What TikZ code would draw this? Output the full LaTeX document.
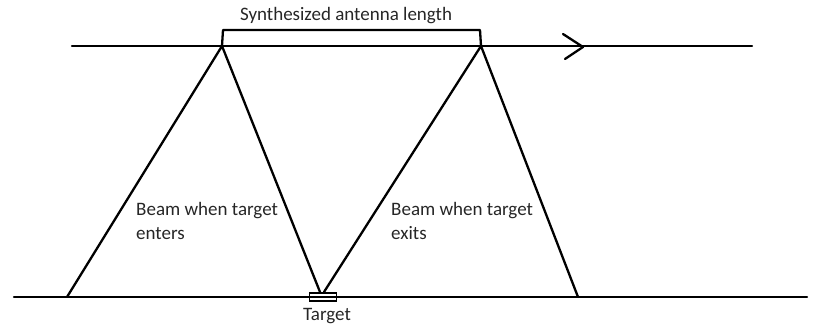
\documentclass[tikz,border=0pt]{standalone}
\usepackage{fontspec}
\setmainfont{Carlito}
\begin{document}
\begin{tikzpicture}[x=1pt,y=-1pt,
  ln/.style={line width=2.3pt, line cap=round, line join=round},
  lbl/.style={font=\fontsize{19}{24}\selectfont, text=black!85, inner sep=0pt},
  multi/.style={lbl, align=left, anchor=north west}]
\useasboundingbox (0,0) rectangle (818,329);
% flight track
\coordinate (tl) at (72,46);
\coordinate (tr) at (752,46);
\draw[ln] (tl) -- (tr);
% chevron arrow
\coordinate (aup) at (563,34);
\coordinate (atip) at (583,47);
\coordinate (alo) at (565,59);
\draw[ln] (aup) -- (atip) -- (alo);
% ground
\coordinate (gl) at (14,297);
\coordinate (gr) at (807,297);
\draw[ln] (gl) -- (gr);
% apexes
\coordinate (a1) at (222,46);
\coordinate (a2) at (481,46);
% bracket
\coordinate (b1) at (223,30);
\coordinate (b2) at (480,30);
\draw[ln] (a1) -- (b1) -- (b2) -- (a2);
\node[lbl] (syn) at (346,16) {Synthesized antenna length};
% target
\node[draw, line width=1.8pt, minimum width=27pt, minimum height=8pt, inner sep=0pt] (tgt) at (323,297) {};
\node[lbl] (tlab) at (327,316) {Target};
% beams
\coordinate (f1) at (67,297);
\coordinate (f2) at (578,297);
\coordinate (t1) at (320,292);
\coordinate (t2) at (324,292);
\draw[ln] (f1) -- (a1) -- (t1);
\draw[ln] (t2) -- (a2) -- (f2);
\node[multi] (enter) at (136,202) {Beam when target\\enters};
\node[multi] (exit) at (391,202) {Beam when target\\exits};
\end{tikzpicture}
\end{document}
